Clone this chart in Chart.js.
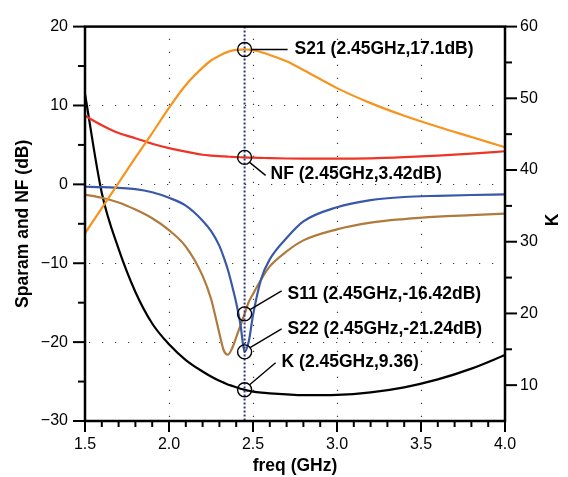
<!DOCTYPE html>
<html>
<head>
<meta charset="utf-8">
<script src="https://cdn.jsdelivr.net/npm/chart.js@4.4.1/dist/chart.umd.min.js"></script>
<style>
  html, body { margin: 0; padding: 0; background: #ffffff; }
  #wrap { width: 568px; height: 477px; }
</style>
</head>
<body>
<div id="wrap"><canvas id="sparam" width="568" height="477"></canvas></div>
<script>
// Amplifier sweep: S-parameters and noise figure (dB, left) and stability factor K (right)
const freqGhz = [1.5, 1.6, 1.7, 1.8, 1.9, 2.0, 2.1, 2.2, 2.25, 2.3, 2.325, 2.35, 2.375, 2.4, 2.425,
  2.45, 2.475, 2.5, 2.55, 2.6, 2.7, 2.8, 3.0, 3.2, 3.4, 3.6, 3.8, 4.0];

const s21Db = [-6.2, -3.0, 0.2, 3.4, 6.5, 9.7, 12.6, 14.8, 15.7, 16.3, 16.58, 16.8, 16.95, 17.04, 17.09,
  17.1, 17.07, 17.0, 16.75, 16.4, 15.6, 14.5, 12.2, 10.3, 8.7, 7.3, 6.0, 4.7];

const nfDb = [8.7, 7.5, 6.5, 5.85, 5.15, 4.6, 4.15, 3.75, 3.65, 3.57, 3.54, 3.51, 3.48, 3.46, 3.44,
  3.42, 3.40, 3.38, 3.35, 3.32, 3.28, 3.26, 3.25, 3.3, 3.45, 3.65, 3.9, 4.2];

const s11Db = [-1.3, -1.7, -2.3, -3.2, -4.3, -5.8, -7.9, -11.6, -14.5, -18.9, -21.0, -21.6, -20.8, -19.4, -17.9,
  -16.42, -14.9, -13.9, -12.0, -10.4, -8.5, -7.1, -5.7, -4.85, -4.4, -4.1, -3.9, -3.7];

const s22Db = [-0.3, -0.35, -0.45, -0.6, -1.0, -1.7, -2.7, -4.6, -5.9, -7.8, -9.2, -10.8, -12.8, -15.0, -17.7,
  -21.24, -19.9, -16.6, -11.9, -9.5, -6.8, -4.7, -2.9, -2.0, -1.6, -1.45, -1.35, -1.28];

const kFactor = [50.6, 36.8, 29.0, 23.0, 18.6, 15.7, 13.5, 11.9, 11.2, 10.6, 10.35, 10.1, 9.9, 9.7, 9.5,
  9.36, 9.22, 9.1, 8.95, 8.85, 8.7, 8.6, 8.65, 9.0, 9.7, 10.8, 12.3, 14.2];

const freqTicks = [1.5, 2.0, 2.5, 3.0, 3.5, 4.0];
const dbTicks = [-30, -20, -10, 0, 10, 20];
const kTicks = [10, 20, 30, 40, 50, 60];

// readout at the design frequency
const markerFreq = 2.45;
const markerNames = ['S21', 'NF', 'S11', 'S22', 'K'];
const markerValues = [17.1, 3.42, -16.42, -21.24, 9.36];
const markerText = ['S21 (2.45GHz,17.1dB)', 'NF (2.45GHz,3.42dB)', 'S11 (2.45GHz,-16.42dB)',
  'S22 (2.45GHz,-21.24dB)', 'K (2.45GHz,9.36)'];

const FONT = "'Liberation Sans', Arial, Helvetica, sans-serif";

const COLORS = {
  s21: '#f7941e',
  nf: '#ee3424',
  s11: '#b07a3c',
  s22: '#3a58a8',
  k: '#000000',
  marker: '#27377a',
  grid: '#3a3a3a'
};

// leader/label placement relative to each marker circle (px)
const labelLayout = {
  S21: { from: [7, 0], to: [43, 0], text: [50, 0] },
  NF: { from: [5, 5], to: [21, 18], text: [26, 17] },
  S11: { from: [5, -4], to: [37, -23], text: [43, -20] },
  S22: { from: [5, -4], to: [37, -23], text: [43, -23] },
  K: { from: [5, -5], to: [31, -27], text: [37, -28] }
};

const series = (ys) => freqGhz.map((f, i) => ({ x: f, y: ys[i] }));

const lineStyle = (label, data, color, axis) => ({
  label,
  data,
  borderColor: color,
  backgroundColor: color,
  borderWidth: 2.2,
  pointRadius: 0,
  fill: false,
  cubicInterpolationMode: 'monotone',
  yAxisID: axis
});

const minus = (v) => String(v).replace('-', '\u2212');

// grid dots, marker line, frame, tick marks, readouts
const decorations = {
  id: 'decorations',
  beforeDatasetsDraw(chart) {
    const { ctx, chartArea: a, scales } = chart;
    ctx.save();
    ctx.strokeStyle = COLORS.grid;
    ctx.lineWidth = 1.2;
    ctx.setLineDash([1.2, 11.8]);
    [2.0, 2.5, 3.0, 3.5].forEach((f) => {
      const x = Math.round(scales.x.getPixelForValue(f)) + 0.5;
      ctx.beginPath();
      ctx.moveTo(x, a.bottom - 4);
      ctx.lineTo(x, a.top);
      ctx.stroke();
    });
    [10, 0, -10, -20].forEach((v) => {
      const y = Math.round(scales.y.getPixelForValue(v)) + 0.5;
      ctx.beginPath();
      ctx.moveTo(a.left + 4, y);
      ctx.lineTo(a.right, y);
      ctx.stroke();
    });
    ctx.restore();
  },
  afterDatasetsDraw(chart) {
    const { ctx, chartArea: a, scales } = chart;
    const xm = scales.x.getPixelForValue(markerFreq);
    ctx.save();

    // design frequency marker
    ctx.strokeStyle = COLORS.marker;
    ctx.lineWidth = 2;
    ctx.setLineDash([2, 2]);
    ctx.beginPath();
    ctx.moveTo(xm, a.top);
    ctx.lineTo(xm, a.bottom);
    ctx.stroke();
    ctx.setLineDash([]);

    // frame
    ctx.strokeStyle = '#000';
    ctx.lineWidth = 2.5;
    ctx.strokeRect(a.left, a.top, a.right - a.left, a.bottom - a.top);

    // tick marks
    ctx.lineWidth = 2;
    const tick = (x1, y1, x2, y2) => {
      ctx.beginPath();
      ctx.moveTo(x1, y1);
      ctx.lineTo(x2, y2);
      ctx.stroke();
    };
    for (let v = -30; v <= 20; v += 5) {
      const y = scales.y.getPixelForValue(v);
      tick(a.left, y, a.left - (v % 10 === 0 ? 12 : 7), y);
    }
    for (let v = 10; v <= 60; v += 5) {
      const y = scales.y2.getPixelForValue(v);
      tick(a.right, y, a.right + (v % 10 === 0 ? 12 : 7), y);
    }
    for (let i = 0; i <= 25; i++) {
      const x = scales.x.getPixelForValue(1.5 + i * 0.1);
      tick(x, a.bottom, x, a.bottom + (i % 5 === 0 ? 11 : 6));
    }

    // readouts
    ctx.font = `bold 17.5px ${FONT}`;
    ctx.textBaseline = 'middle';
    ctx.textAlign = 'left';
    ctx.fillStyle = '#000';
    markerNames.forEach((name, i) => {
      const yScale = name === 'K' ? scales.y2 : scales.y;
      const cy = yScale.getPixelForValue(markerValues[i]);
      const L = labelLayout[name];
      ctx.lineWidth = 1.4;
      ctx.beginPath();
      ctx.arc(xm, cy, 7, 0, Math.PI * 2);
      ctx.stroke();
      ctx.beginPath();
      ctx.moveTo(xm + L.from[0], cy + L.from[1]);
      ctx.lineTo(xm + L.to[0], cy + L.to[1]);
      ctx.stroke();
      ctx.fillText(markerText[i], xm + L.text[0], cy + L.text[1]);
    });

    // right axis title, reads bottom-to-top like the left one
    ctx.translate(553, 220);
    ctx.rotate(-Math.PI / 2);
    ctx.textAlign = 'center';
    ctx.fillText('K', 0, 0);
    ctx.restore();
  }
};

new Chart(document.getElementById('sparam'), {
  type: 'line',
  data: {
    datasets: [
      lineStyle('S21', series(s21Db), COLORS.s21, 'y'),
      lineStyle('NF', series(nfDb), COLORS.nf, 'y'),
      lineStyle('S22', series(s22Db), COLORS.s22, 'y'),
      lineStyle('S11', series(s11Db), COLORS.s11, 'y'),
      lineStyle('K', series(kFactor), COLORS.k, 'y2')
    ]
  },
  options: {
    responsive: false,
    animation: false,
    layout: { padding: { top: 16, left: 0, right: 0, bottom: 0 } },
    plugins: {
      legend: { display: false },
      tooltip: { enabled: false }
    },
    scales: {
      x: {
        type: 'linear',
        position: 'bottom',
        min: 1.5,
        max: 4.0,
        afterBuildTicks: (s) => { s.ticks = freqTicks.map((v) => ({ value: v })); },
        afterFit: (s) => { s.height = 56; },
        grid: { display: false, drawTicks: false },
        border: { display: false },
        ticks: {
          color: '#000',
          padding: 14,
          maxRotation: 0,
          font: { family: FONT, size: 16 },
          callback: (v) => Number(v).toFixed(1)
        },
        title: {
          display: true,
          text: 'freq (GHz)',
          color: '#000',
          font: { family: FONT, size: 17.5, weight: 'bold' },
          padding: { top: 0, bottom: 0 }
        }
      },
      y: {
        type: 'linear',
        position: 'left',
        min: -30,
        max: 20,
        afterBuildTicks: (s) => { s.ticks = dbTicks.map((v) => ({ value: v })); },
        afterFit: (s) => { s.width = 85; },
        grid: { display: false, drawTicks: false },
        border: { display: false },
        ticks: {
          color: '#000',
          padding: 17,
          font: { family: FONT, size: 16 },
          callback: (v) => minus(v)
        },
        title: {
          display: true,
          text: 'Sparam and NF (dB)',
          color: '#000',
          font: { family: FONT, size: 17.5, weight: 'bold' },
          padding: { top: 13, bottom: 0 }
        }
      },
      y2: {
        type: 'linear',
        position: 'right',
        min: 5,
        max: 60,
        afterBuildTicks: (s) => { s.ticks = kTicks.map((v) => ({ value: v })); },
        afterFit: (s) => { s.width = 63; },
        grid: { display: false, drawTicks: false },
        border: { display: false },
        ticks: {
          color: '#000',
          padding: 15,
          font: { family: FONT, size: 16 }
        }
      }
    }
  },
  plugins: [decorations]
});
</script>
</body>
</html>
